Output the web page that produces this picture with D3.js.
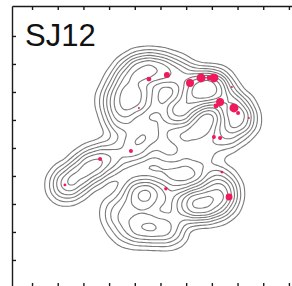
<!DOCTYPE html>
<html lang="en">
<head>
<meta charset="UTF-8">
<title>SJ12</title>
<script src="https://cdn.jsdelivr.net/npm/d3@7"></script>
<style>
body { margin: 0; background: #fff; }
.contour { fill: none; stroke: #7a7a7a; stroke-width: 1.1px; }
.axis path, .axis line { stroke: #1a1a1a; stroke-width: 1.4px; }
</style>
</head>
<body>
<div id="chart"></div>
<script>

// panel label and tick positions (no tick labels are shown)
var title = "SJ12";
var xTicks = [0, 1, 2, 3, 4, 5, 6, 7, 8, 9, 10];
var yTicks = [0, 1, 2, 3, 4, 5, 6, 7, 8];

// weighted density seeds (x, y, weight)
var seeds = [
    // upper lobe
    {x: 3.93, y: 5.75, w: 1.3},
    {x: 3.62, y: 6.43, w: 0.8},
    {x: 4.20, y: 6.79, w: 1.2},
    {x: 4.90, y: 6.79, w: 1.2},
    {x: 5.68, y: 6.61, w: 0.9},
    {x: 6.54, y: 6.14, w: 1.5},
    {x: 7.12, y: 6.14, w: 1.5},
    {x: 5.68, y: 5.29, w: 1.3},
    {x: 6.23, y: 5.71, w: 0.7},
    {x: 8.09, y: 5.00, w: 1.1},
    {x: 7.78, y: 5.50, w: 0.9},
    {x: 3.50, y: 5.00, w: 0.9},
    {x: 3.23, y: 5.71, w: 0.8},
    {x: 4.59, y: 5.71, w: 0.7},
    {x: 4.59, y: 4.64, w: 0.8},
    {x: 7.51, y: 4.46, w: 0.7},
    {x: 4.01, y: 4.00, w: 0.9},
    {x: 5.37, y: 3.93, w: 0.6},
    {x: 6.54, y: 3.93, w: 0.5},
    // middle-left arm
    {x: 2.33, y: 3.39, w: 1.1},
    {x: 3.04, y: 3.64, w: 0.8},
    {x: 1.32, y: 2.68, w: 1.0},
    {x: 1.83, y: 3.00, w: 0.7},
    // lower lobe
    {x: 4.20, y: 2.32, w: 1.2},
    {x: 4.90, y: 2.32, w: 0.7},
    {x: 4.32, y: 1.18, w: 1.1},
    {x: 5.06, y: 1.14, w: 0.7},
    {x: 6.54, y: 2.00, w: 1.6},
    {x: 5.95, y: 2.00, w: 0.9},
    {x: 7.24, y: 2.00, w: 0.9},
    {x: 7.47, y: 2.43, w: 0.8},
    {x: 7.12, y: 2.86, w: 0.6},
    {x: 5.45, y: 1.07, w: 0.5},
    {x: 3.35, y: 1.71, w: 0.6},
    {x: 3.62, y: 1.07, w: 0.4}
];

// highlighted cells (x, y, count -> dot area)
var dots = [
    {x: 4.55, y: 6.46, n: 6},
    {x: 5.25, y: 6.61, n: 9},
    {x: 6.15, y: 6.32, n: 16},
    {x: 6.58, y: 6.50, n: 20},
    {x: 6.89, y: 6.50, n: 6},
    {x: 7.08, y: 6.50, n: 20},
    {x: 7.78, y: 6.18, n: 1},
    {x: 7.32, y: 5.64, n: 16},
    {x: 7.16, y: 5.50, n: 6},
    {x: 7.86, y: 5.43, n: 20},
    {x: 8.02, y: 5.25, n: 4},
    {x: 8.44, y: 5.07, n: 1},
    {x: 7.08, y: 4.39, n: 4},
    {x: 7.32, y: 4.36, n: 4},
    {x: 4.16, y: 5.43, n: 1},
    {x: 3.85, y: 3.89, n: 4},
    {x: 2.65, y: 3.61, n: 4},
    {x: 1.28, y: 2.68, n: 2},
    {x: 5.21, y: 2.54, n: 3},
    {x: 7.39, y: 3.14, n: 2},
    {x: 7.67, y: 2.25, n: 12}
];

var width = 292, height = 286;

var x = d3.scaleLinear().domain([-0.78, 10.12]).range([12, 292]);
var y = d3.scaleLinear().domain([9.07, -0.93]).range([6, 286]);
var r = d3.scaleSqrt().domain([0, 25]).range([0, 5]);

var svg = d3.select("#chart").append("svg")
    .attr("width", width)
    .attr("height", height);

// density contours
var density = d3.contourDensity()
    .x(function(d) { return x(d.x); })
    .y(function(d) { return y(d.y); })
    .weight(function(d) { return d.w; })
    .size([width, height])
    .cellSize(2)
    .bandwidth(10);

var cont = density.contours(seeds);
var fractions = [0.06, 0.13, 0.21, 0.3, 0.4, 0.51, 0.64, 0.79];
var levels = fractions.map(function(t) { return t * cont.max; });

svg.append("g")
    .selectAll("path")
    .data(levels.map(function(l) { return cont(l); }))
    .join("path")
    .attr("class", "contour")
    .attr("d", d3.geoPath());

// dots
svg.append("g")
    .selectAll("circle")
    .data(dots)
    .join("circle")
    .attr("cx", function(d) { return x(d.x); })
    .attr("cy", function(d) { return y(d.y); })
    .attr("r", function(d) { return r(d.n); })
    .style("fill", "#ee1a5c");

// frame axes, ticks pointing inward
svg.append("g")
    .attr("class", "axis")
    .attr("transform", "translate(0,6)")
    .call(d3.axisTop(x).tickValues(xTicks).tickSizeInner(-4).tickSizeOuter(0).tickFormat(""));

svg.append("g")
    .attr("class", "axis")
    .attr("transform", "translate(12,0)")
    .call(d3.axisLeft(y).tickValues(yTicks).tickSizeInner(-4).tickSizeOuter(0).tickFormat(""));

svg.append("g")
    .attr("class", "axis")
    .attr("transform", "translate(0,287)")
    .call(d3.axisBottom(x).tickValues(xTicks).tickSizeInner(-4).tickSizeOuter(0).tickFormat(""));

svg.append("text")
    .attr("x", 25)
    .attr("y", 46)
    .style("font-family", "'Liberation Sans', Arial, Helvetica, sans-serif")
    .style("font-size", "31px")
    .style("fill", "#111")
    .text(title);

</script>
</body>
</html>
